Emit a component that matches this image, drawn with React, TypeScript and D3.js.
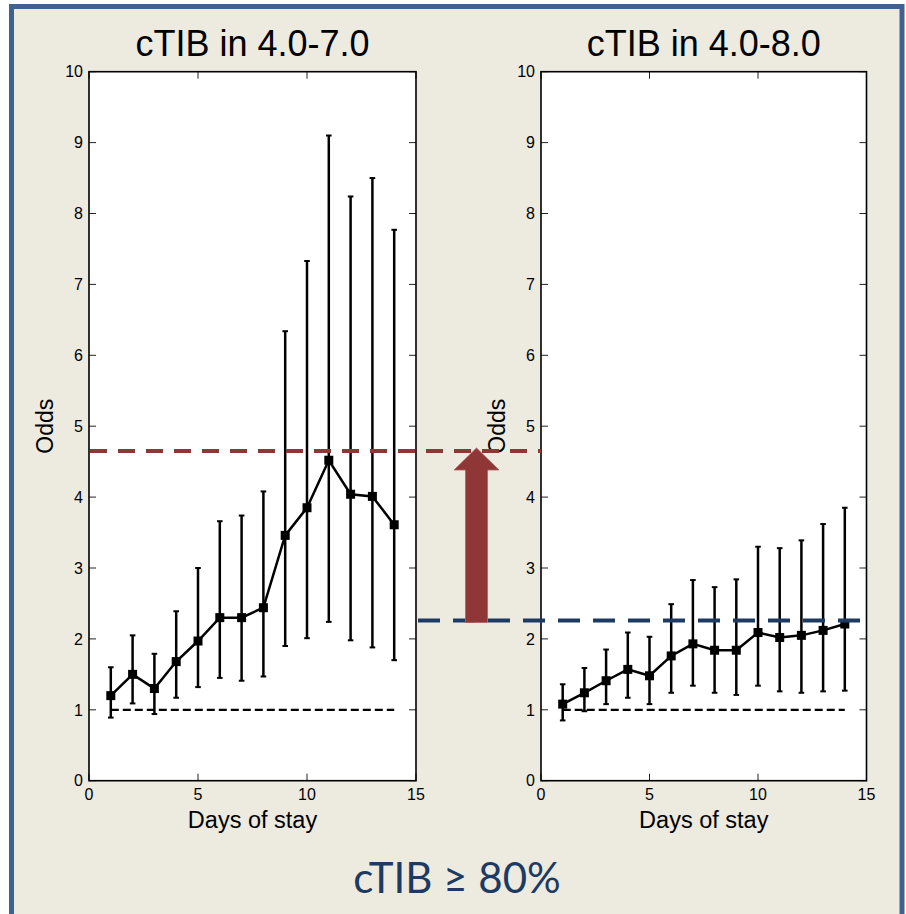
import React from "react";
import * as d3 from "d3";

// days of stay (x) and odds with 95% interval
const days = [1, 2, 3, 4, 5, 6, 7, 8, 9, 10, 11, 12, 13, 14];

const leftMean = [1.2, 1.5, 1.3, 1.68, 1.97, 2.3, 2.3, 2.44, 3.46, 3.85, 4.52, 4.04, 4.01, 3.61];
const leftUpper = [1.6, 2.05, 1.79, 2.39, 3.0, 3.66, 3.74, 4.08, 6.34, 7.33, 9.1, 8.24, 8.5, 7.77];
const leftLower = [0.89, 1.09, 0.94, 1.17, 1.32, 1.45, 1.41, 1.47, 1.9, 2.01, 2.24, 1.98, 1.88, 1.7];

const rightMean = [1.08, 1.24, 1.41, 1.57, 1.48, 1.76, 1.93, 1.84, 1.84, 2.09, 2.02, 2.05, 2.12, 2.21];
const rightUpper = [1.36, 1.59, 1.85, 2.09, 2.03, 2.49, 2.83, 2.73, 2.84, 3.3, 3.28, 3.39, 3.62, 3.85];
const rightLower = [0.85, 0.98, 1.08, 1.17, 1.08, 1.24, 1.34, 1.24, 1.21, 1.34, 1.26, 1.24, 1.26, 1.27];

const xTicks = [0, 5, 10, 15];
const yTicks = [0, 1, 2, 3, 4, 5, 6, 7, 8, 9, 10];

const titles = ["cTIB in 4.0-7.0", "cTIB in 4.0-8.0"];
const footer = "cTIB \u2265 80%";

const baseline = 1;
const redLevel = 4.65; // peak odds in the left panel
const blueLevel = 2.26; // peak odds in the right panel

const W = 906;
const H = 914;
const top = 71.7;
const bottom = 780.7;
const panelsX = [
  [89, 416],
  [541, 866.5],
];

const font = "'Liberation Sans', Arial, Helvetica, sans-serif";
const bg = "#edeae0";
const red = "#8f3636";
const navy = "#1d3a63";

const y = d3.scaleLinear().domain([0, 10]).range([bottom, top]);

const Panel = ({ x, title, mean, upper, lower }) => {
  const [x0, x1] = x.range();
  const line = d3
    .line()
    .x((d, i) => x(days[i]))
    .y((d) => y(d));
  const cap = 2.8;
  const tl = 7;
  return (
    <g>
      <rect x={x0} y={top} width={x1 - x0} height={bottom - top} fill="#fff" />
      {/* inward ticks, all four sides */}
      {yTicks.map((t) => (
        <g key={"y" + t} stroke="#222" strokeWidth={1}>
          <line x1={x0} x2={x0 + tl} y1={y(t)} y2={y(t)} />
          <line x1={x1} x2={x1 - tl} y1={y(t)} y2={y(t)} />
        </g>
      ))}
      {xTicks.map((t) => (
        <g key={"x" + t} stroke="#222" strokeWidth={1}>
          <line x1={x(t)} x2={x(t)} y1={bottom} y2={bottom - tl} />
          <line x1={x(t)} x2={x(t)} y1={top} y2={top + tl} />
        </g>
      ))}
      <rect x={x0} y={top} width={x1 - x0} height={bottom - top} fill="none" stroke="#000" strokeWidth={1.6} />
      {yTicks.map((t) => (
        <text key={"yl" + t} x={x0 - 6} y={y(t)} dy="0.36em" textAnchor="end" fontSize={16} fontFamily={font}>
          {t}
        </text>
      ))}
      {xTicks.map((t) => (
        <text key={"xl" + t} x={x(t)} y={bottom + 19} textAnchor="middle" fontSize={16} fontFamily={font}>
          {t}
        </text>
      ))}
      <text x={(x0 + x1) / 2} y={828} textAnchor="middle" fontSize={23.5} fontFamily={font}>
        Days of stay
      </text>
      <text
        transform={`translate(${x0 - 36},${(top + bottom) / 2}) rotate(-90)`}
        textAnchor="middle"
        fontSize={23}
        fontFamily={font}
      >
        Odds
      </text>
      <text x={(x0 + x1) / 2} y={56} textAnchor="middle" fontSize={36} fontFamily={font}>
        {title}
      </text>
      {/* reference at odds = 1 */}
      <line
        x1={x(days[0])}
        x2={x(days[days.length - 1])}
        y1={y(baseline)}
        y2={y(baseline)}
        stroke="#000"
        strokeWidth={2.2}
        strokeDasharray="8,4"
      />
      {days.map((d, i) => (
        <g key={"e" + d} stroke="#000" strokeWidth={2.5}>
          <line x1={x(d)} x2={x(d)} y1={y(upper[i])} y2={y(lower[i])} />
          <line x1={x(d) - cap} x2={x(d) + cap} y1={y(upper[i])} y2={y(upper[i])} strokeWidth={2} />
          <line x1={x(d) - cap} x2={x(d) + cap} y1={y(lower[i])} y2={y(lower[i])} strokeWidth={2} />
        </g>
      ))}
      <path d={line(mean)} fill="none" stroke="#000" strokeWidth={2.5} />
      {mean.map((m, i) => (
        <rect key={"m" + i} x={x(days[i]) - 4.5} y={y(m) - 4.5} width={9} height={9} fill="#000" />
      ))}
    </g>
  );
};

export default function App() {
  const xl = d3.scaleLinear().domain([0, 15]).range(panelsX[0]);
  const xr = d3.scaleLinear().domain([0, 15]).range(panelsX[1]);

  const ax = (xl(15) + xr(0)) / 2 - 2;
  const tipY = y(redLevel) - 3;
  const baseY = y(blueLevel) + 2;
  const shaft = 11;
  const head = 22.5;
  const headH = 22;
  const arrow = [
    [ax, tipY],
    [ax + head, tipY + headH],
    [ax + shaft, tipY + headH],
    [ax + shaft, baseY],
    [ax - shaft, baseY],
    [ax - shaft, tipY + headH],
    [ax - head, tipY + headH],
  ];

  return (
    <div style={{ position: "absolute", left: 0, top: 0 }}>
      <svg width={W} height={H} style={{ display: "block", background: "#fff" }}>
        <rect x={11.5} y={6.5} width={890.5} height={910} fill={bg} stroke="#41618f" strokeWidth={5} />
        <Panel x={xl} title={titles[0]} mean={leftMean} upper={leftUpper} lower={leftLower} />
        <Panel x={xr} title={titles[1]} mean={rightMean} upper={rightUpper} lower={rightLower} />
        <line
          x1={xl(0) + 1}
          x2={xr(0)}
          y1={y(redLevel)}
          y2={y(redLevel)}
          stroke={red}
          strokeWidth={4}
          strokeDasharray="17,11"
        />
        <line
          x1={xl(15) + 2}
          x2={xr(15) + 2}
          y1={y(blueLevel)}
          y2={y(blueLevel)}
          stroke={navy}
          strokeWidth={4}
          strokeDasharray="22,13"
        />
        <polygon points={arrow.map((p) => p.join(",")).join(" ")} fill={red} stroke="#b06060" strokeWidth={0.8} />
        <text x={457} y={893} textAnchor="middle" fontSize={42} fontFamily="Lato, 'Open Sans', sans-serif" fill={navy}>
          {footer}
        </text>
      </svg>
    </div>
  );
}
